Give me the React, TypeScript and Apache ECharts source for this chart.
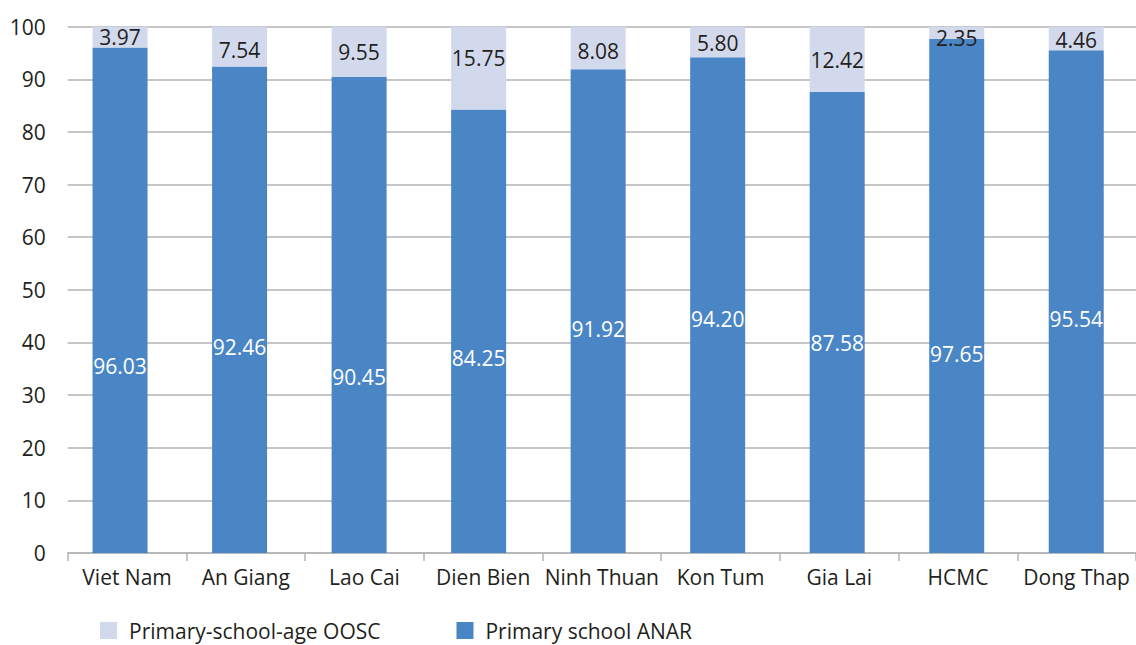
import React, { useEffect, useRef } from "react";
import * as echarts from "echarts";

const categories = ["Viet Nam", "An Giang", "Lao Cai", "Dien Bien", "Ninh Thuan", "Kon Tum", "Gia Lai", "HCMC", "Dong Thap"];
const anarValues = [96.03, 92.46, 90.45, 84.25, 91.92, 94.2, 87.58, 97.65, 95.54];
const ooscValues = [3.97, 7.54, 9.55, 15.75, 8.08, 5.8, 12.42, 2.35, 4.46];
const yTicks = { min: 0, max: 100, interval: 10 };

// label vertical nudges (pixels), as placed in the reference
const anarLabelShift = [66, 37, 62, 27, 18, 14, 20, 58, 17];
const ooscLabelShift = [0, 3, 0, -10, 3, 1, 1, 5, 2];

const FONT = "'Open Sans', 'Noto Sans', sans-serif";
const TEXT = "#231f20";
const GREY = "#b3b3b3";
const BLUE = "#4a86c5";
const LIGHT = "#d3d9ed";
const FS = 21;

export default function App() {
  const ref = useRef<HTMLDivElement>(null);
  useEffect(() => {
    if (!ref.current) return;
    const chart = echarts.init(ref.current, null, { renderer: "svg" });
    const fmt = (p: any) => Number(p.value).toFixed(2);
    chart.setOption({
      animation: false,
      textStyle: { fontFamily: FONT },
      grid: [
        { left: 60.3, right: -7.9, top: 26.7, bottom: 92 },
        { left: 67.7, right: -2.7, top: 26.7, bottom: 92 },
      ],
      legend: {
        data: ["Primary-school-age OOSC", "Primary school ANAR"],
        left: 100,
        top: 620,
        padding: 0,
        icon: "rect",
        itemWidth: 17,
        itemHeight: 17,
        itemGap: 76,
        textStyle: { fontSize: FS, color: TEXT, fontFamily: FONT, padding: [0, 0, 0, 7] },
      },
      xAxis: [
        { type: "category", gridIndex: 0, data: categories, show: false },
        {
          type: "category",
          gridIndex: 1,
          data: categories,
          axisLine: { show: true, lineStyle: { color: GREY, width: 1.5 } },
          axisTick: { show: true, length: 8, lineStyle: { color: GREY, width: 1.5 } },
          axisLabel: { fontSize: FS, color: TEXT, fontFamily: FONT, margin: 13, interval: 0 },
        },
      ],
      yAxis: [
        { type: "value", gridIndex: 0, min: yTicks.min, max: yTicks.max, interval: yTicks.interval, show: false },
        {
          type: "value",
          gridIndex: 1,
          min: yTicks.min,
          max: yTicks.max,
          interval: yTicks.interval,
          axisLine: { show: false },
          axisTick: { show: false },
          axisLabel: { fontSize: FS, color: TEXT, fontFamily: FONT, margin: 22 },
          splitLine: { show: true, lineStyle: { color: GREY, width: 1.5 } },
        },
      ],
      series: [
        {
          name: "Primary school ANAR",
          type: "bar",
          stack: "total",
          xAxisIndex: 0,
          yAxisIndex: 0,
          barWidth: 55,
          itemStyle: { color: BLUE },
          label: { show: true, position: "inside", color: "#ffffff", fontSize: FS, fontFamily: FONT, formatter: fmt },
          data: anarValues.map((v, i) => ({ value: v, label: { offset: [0, anarLabelShift[i]] } })),
        },
        {
          name: "Primary-school-age OOSC",
          type: "bar",
          stack: "total",
          xAxisIndex: 0,
          yAxisIndex: 0,
          barWidth: 55,
          itemStyle: { color: LIGHT },
          label: { show: true, position: "inside", color: TEXT, fontSize: FS, fontFamily: FONT, formatter: fmt },
          data: ooscValues.map((v, i) => ({ value: v, label: { offset: [0, ooscLabelShift[i]] } })),
        },
      ],
    });
    return () => chart.dispose();
  }, []);
  return (
    <div
      ref={ref}
      style={{ position: "fixed", left: 0, top: 0, width: 1136, height: 645, background: "#ffffff" }}
    />
  );
}
